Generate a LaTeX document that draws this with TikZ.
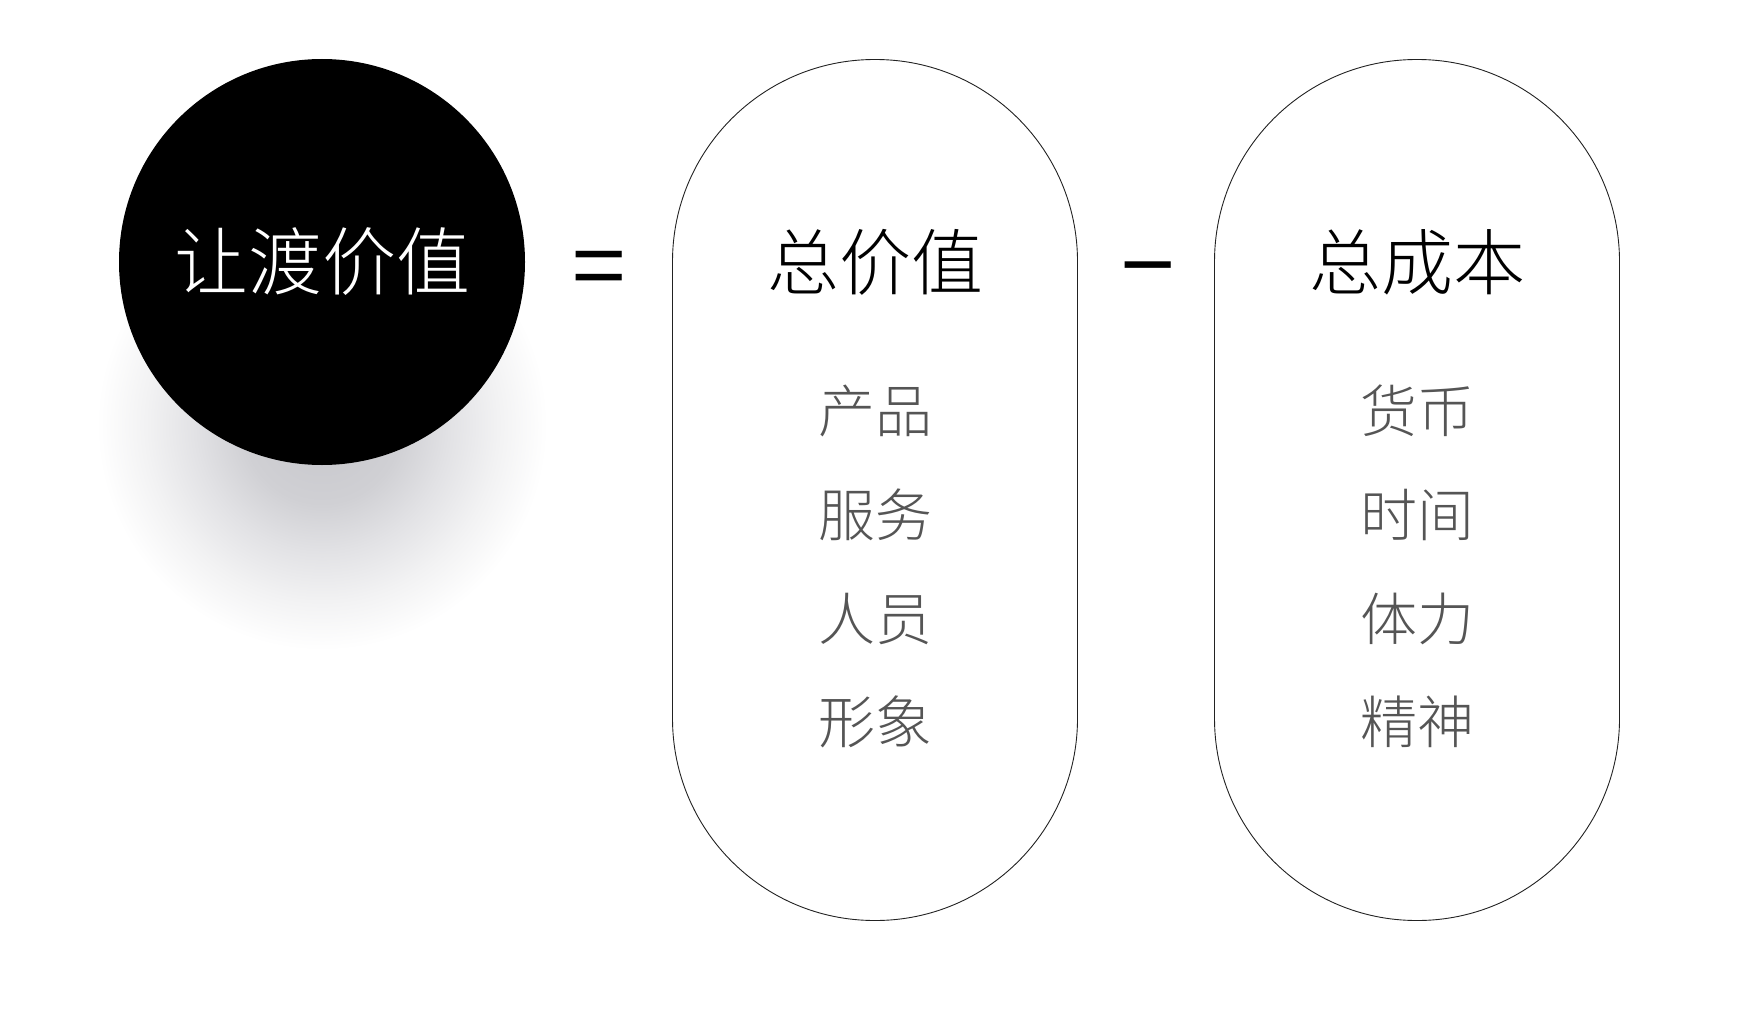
\documentclass[tikz,border=0pt]{standalone}
\usepackage{fontspec}
\usepackage{xcolor}
\usetikzlibrary{positioning}
\IfFontExistsTF{Noto Sans CJK SC Light}
	{\newfontfamily\cjk{Noto Sans CJK SC Light}}
	{\newfontfamily\cjk{Noto Sans CJK SC}}
\newfontfamily\cjkreg{Noto Sans CJK SC}
\definecolor{itemgray}{HTML}{555555}
\definecolor{pillline}{HTML}{222222}
\definecolor{shzero}{HTML}{C6C6CB}
\definecolor{shone}{HTML}{D0D0D4}
\definecolor{shtwo}{HTML}{E2E2E5}
\definecolor{shthree}{HTML}{F2F2F3}
\pgfdeclareradialshading{softshadow}{\pgfpoint{0bp}{0bp}}{color(0bp)=(shzero); color(8bp)=(shone); color(13bp)=(shtwo); color(18bp)=(shthree); color(23bp)=(white); color(50bp)=(white)}

\begin{document}
\begin{tikzpicture}[x=1pt,y=-1pt,
	pill/.style={draw=pillline, line width=0.9pt, rounded corners=202pt, minimum width=405pt, minimum height=861pt, inner sep=0pt},
	headtext/.style={font=\cjk\fontsize{72}{80}\selectfont, text height=63pt, text depth=9pt, inner sep=0pt},
	itemtext/.style={font=\cjk\fontsize{57}{64}\selectfont, text=itemgray, text height=50pt, text depth=7pt, inner sep=0pt},
	optext/.style={font=\cjkreg\fontsize{96}{100}\selectfont, inner sep=0pt}]

	\useasboundingbox (0,0) rectangle (1740,1014);

	% shadow and black circle
	\shade[shading=softshadow] (322,425) circle (245);
	\node[circle, fill=black, minimum size=406pt, inner sep=0pt] (lead) at (322,262) {};
	\node[headtext, text=white, font=\cjk\fontsize{74}{80}\selectfont] (leadtext) at (lead.center) {让渡价值};

	% the two pills
	\node[pill] (valuepill) at (875,490) {};
	\node[pill] (costpill) at (1417,490) {};

	\node[optext] (equals) at (599,276) {=};
	\node[optext] (minus) at (1148,281) {−};

	\node[headtext] (valuehead) at (875,262) {总价值};
	\node[headtext] (costhead) at (1417,262) {总成本};

	\node[itemtext] (v1) at (875,411) {产品};
	\node[itemtext] (v2) at (875,515) {服务};
	\node[itemtext] (v3) at (875,619) {人员};
	\node[itemtext] (v4) at (875,722) {形象};

	\node[itemtext] (c1) at (1417,411) {货币};
	\node[itemtext] (c2) at (1417,515) {时间};
	\node[itemtext] (c3) at (1417,619) {体力};
	\node[itemtext] (c4) at (1417,722) {精神};
\end{tikzpicture}
\end{document}
